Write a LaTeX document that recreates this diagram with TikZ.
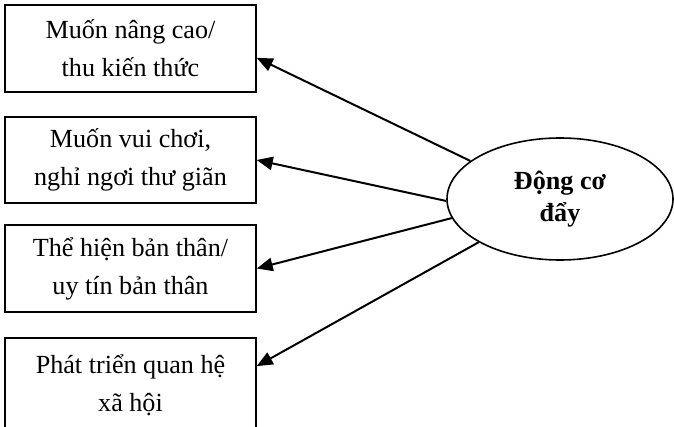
\documentclass[tikz,border=0pt]{standalone}
\usepackage{fontspec}
\setmainfont{Liberation Serif}
\usetikzlibrary{shapes.geometric,arrows.meta}
\tikzset{
  box/.style={draw, line width=1.3pt, minimum width=188pt, minimum height=65pt,
    inner sep=0pt, align=center,
    font=\fontsize{19.6pt}{28.5pt}\selectfont},
  motive/.style={draw, ellipse, line width=1.2pt, minimum width=169.5pt,
    minimum height=91.5pt, inner sep=0pt, align=center,
    font=\fontsize{19.6pt}{24pt}\selectfont\bfseries},
  push/.style={line width=1.5pt, -{Triangle[length=12pt,width=10pt]}}
}
\begin{document}
\begin{tikzpicture}[x=0.75pt,y=-0.75pt]
  \useasboundingbox (0,0) rectangle (674,427);
  \clip (0,0) rectangle (674,427);
  % reasons on the left
  \node[box] (b1) at (130.5,48.5) {Muốn nâng cao/\\thu kiến thức};
  \node[box] (b2) at (130.5,160) {Muốn vui chơi,\\nghỉ ngơi thư giãn};
  \node[box] (b3) at (130.5,268.5) {Thể hiện bản thân/\\uy tín bản thân};
  \node[box, minimum height=70.5pt] (b4) at (130.5,385) {Phát triển quan hệ\\xã hội};
  % the push motive
  \node[motive] (e) at (560,199) {Động cơ\\đẩy};
  % arrows from the motive to each reason
  \draw[push] (e.157) -- ([yshift=-7pt]b1.east);
  \draw[push] (e.181) -- (b2.east);
  \draw[push] (e.190) -- (b3.east);
  \draw[push] (e.208) -- ([yshift=-21.75pt]b4.north east);
\end{tikzpicture}
\end{document}
